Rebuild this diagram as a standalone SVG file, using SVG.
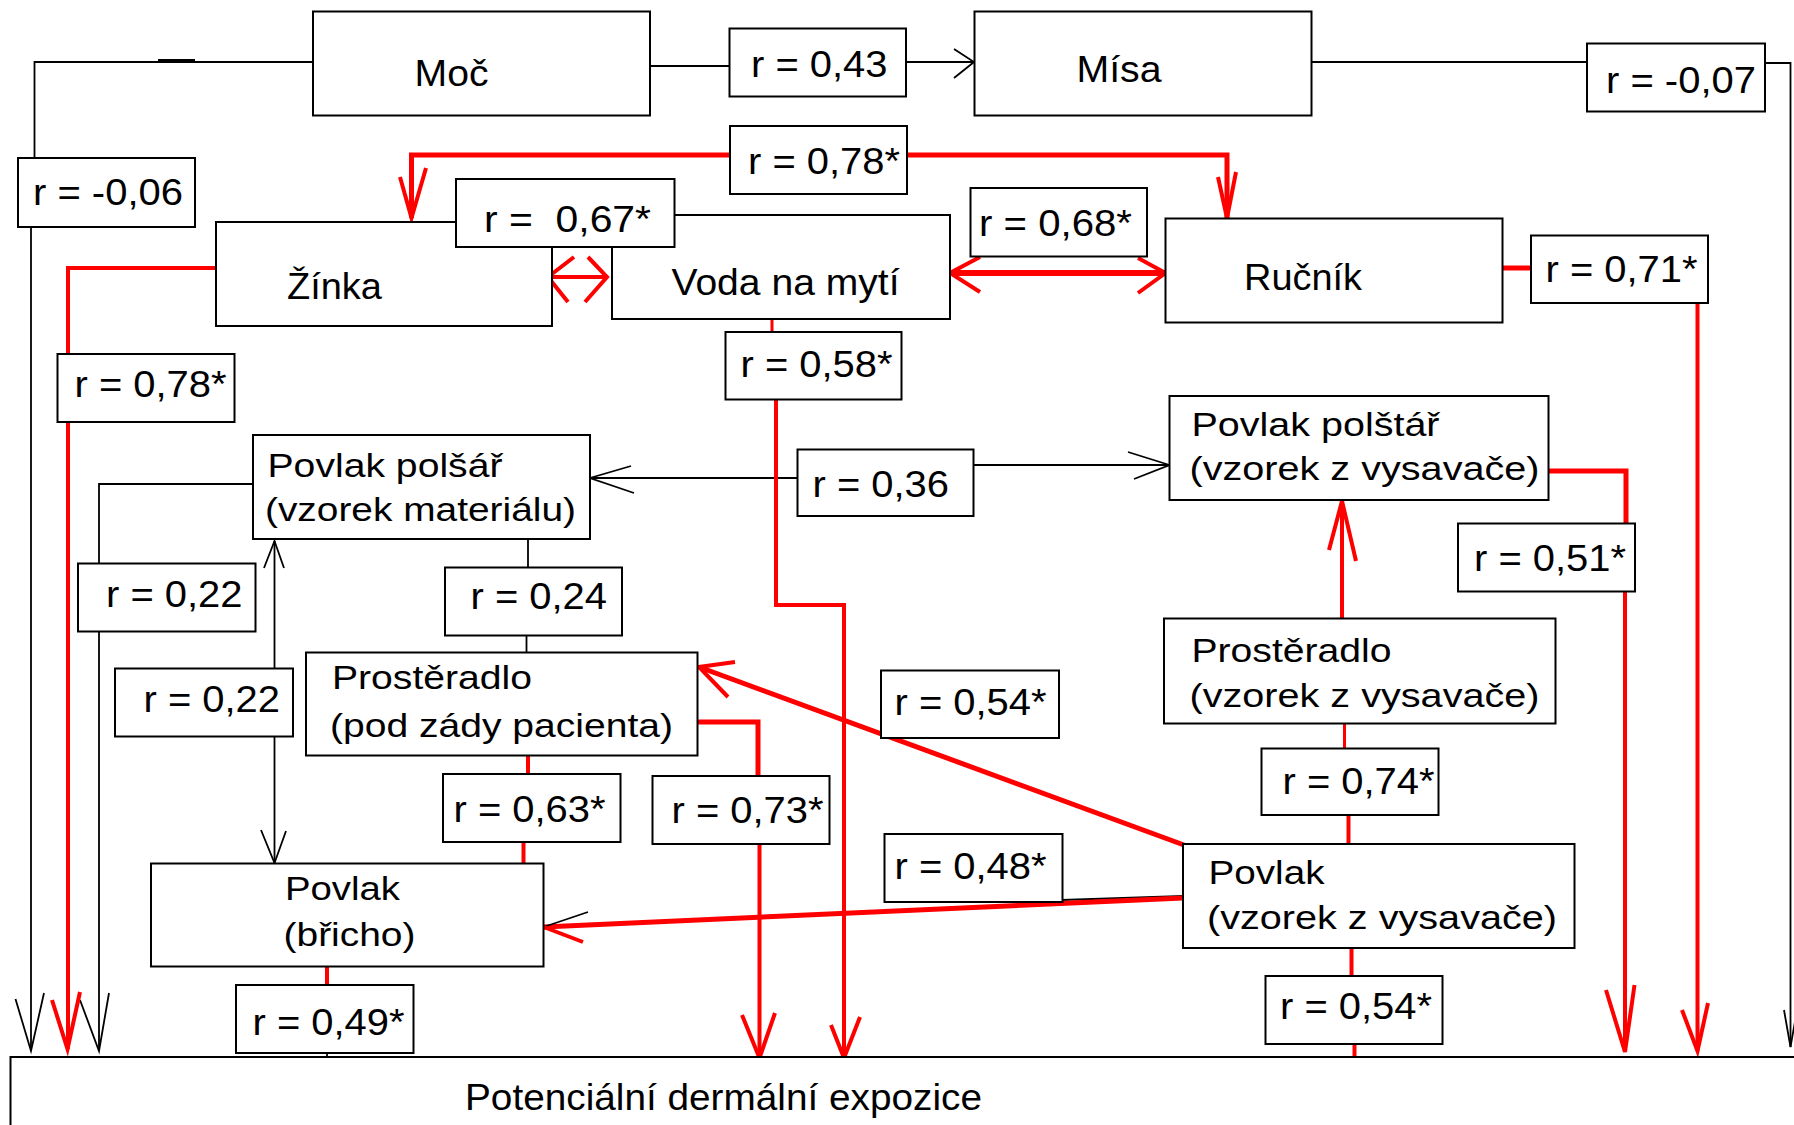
<svg xmlns="http://www.w3.org/2000/svg" width="1794" height="1125" viewBox="0 0 1794 1125">
<style>
.nd{fill:#fff;stroke:#000;stroke-width:2}
.lb{fill:#fff;stroke:#000;stroke-width:2}
.k{fill:none;stroke:#000;stroke-width:1.8}
.r{fill:none;stroke:#f00;stroke-width:4}
.rt{fill:none;stroke:#f00;stroke-width:5}
text{font-family:"Liberation Sans",Arial,sans-serif;fill:#000}
.t1{font-size:37px}
.tn{font-size:36px}
.t2{font-size:34px}
</style>
<rect width="1794" height="1125" fill="#fff"/>
<g id="connectors">
<path class="k" d="M313,62 H34.5 V158"/>
<path d="M158,61 H195" stroke="#000" stroke-width="4"/>
<path class="k" d="M31,227 V1051"/>
<path class="k" d="M15.5,999 L31,1051 L44,993"/>
<path class="k" d="M650,66 H730"/>
<path class="k" d="M906,62 H974"/>
<path class="k" d="M954,49 L974,62 L954,78"/>
<path class="k" d="M1311,62 H1587"/>
<path class="k" d="M1765,63 H1790.5 V1047"/>
<path class="k" d="M1784,1010 L1790.5,1047 L1797,1010"/>
<path class="k" d="M253,484 H99 V1051"/>
<path class="k" d="M80,1000 L99,1051 L109,993"/>
<path class="k" d="M797,478 H590"/>
<path class="k" d="M631,466 L590,478 L634,493"/>
<path class="k" d="M974,465 H1169.5"/>
<path class="k" d="M1128,452 L1169.5,465 L1134,479"/>
<path class="k" d="M528,539 V567"/>
<path class="k" d="M526.5,635 V652"/>
<path class="k" d="M274.5,541 V863"/>
<path class="k" d="M264,568 L274.5,541 L284,568"/>
<path class="k" d="M261,830 L274.5,863 L286,831"/>
<path class="k" d="M327,1053 V1059"/>
<path class="k" d="M1000,902 L1184,896"/>
<path class="rt" d="M730,155 H411.5 V218"/>
<path class="r" d="M400,177 L411.5,218 L426,168"/>
<path class="rt" d="M907,155 H1227 V218"/>
<path class="r" d="M1218,177 L1227,218 L1236,172"/>
<path class="r" d="M216,268 H68 V1049"/>
<path class="r" d="M52,1000 L67.5,1049 L80,992"/>
<path class="r" d="M548,277 H607"/>
<path class="r" d="M574,257 L548,277 L568,302 M588,257 L607,277 L585,302"/>
<path class="r" style="stroke-width:6" d="M950,273 H1165.5"/>
<path class="r" d="M980,257 L950,273 L980,292 M1138,258 L1165.5,273 L1138,293"/>
<path class="r" style="stroke-width:3" d="M772,315 V332"/>
<path class="r" d="M776,399 V605 H844 V1058"/>
<path class="r" d="M831,1025 L844,1058 L860,1017"/>
<path class="rt" d="M1502.5,268 H1531"/>
<path class="r" d="M1697.5,303 V1051"/>
<path class="r" d="M1682,1010 L1697.5,1051 L1708,1003"/>
<path class="rt" d="M1548,471 H1626 V523"/>
<path class="r" d="M1625,592 V1052"/>
<path class="r" d="M1606,990 L1625,1052 L1634.5,985"/>
<path class="r" d="M1342,618 V501"/>
<path class="r" d="M1329,550 L1342,501 L1356,561"/>
<path class="r" style="stroke-width:3" d="M1344.5,723 V748"/>
<path class="r" d="M1348.5,815 V844"/>
<path class="r" d="M1351.5,948 V976"/>
<path class="r" d="M1354.5,1044 V1060"/>
<path class="rt" d="M1184,845 L699,667"/>
<path class="r" d="M735,662 L699,667 L728,697"/>
<path class="rt" d="M1183,898 L543.6,927"/>
<path class="k" d="M588,912 L543.6,927"/>
<path class="r" d="M543.6,927 L583,942"/>
<path class="rt" d="M697.5,722 H758 V776"/>
<path class="r" d="M759.5,844 V1058"/>
<path class="r" d="M742,1015 L759.5,1058 L775,1013"/>
<path class="r" d="M528,756 V774"/>
<path class="r" d="M523.5,842 V863"/>
<path class="r" d="M327,967 V985"/>
</g>
<g id="node-moc"><rect class="nd" x="313" y="11.5" width="337" height="104"/><text class="tn" x="414.5" y="86" textLength="74" lengthAdjust="spacingAndGlyphs">Moč</text></g>
<g id="node-misa"><rect class="nd" x="974.5" y="11.5" width="337" height="104"/><text class="tn" x="1076.5" y="82" textLength="85" lengthAdjust="spacingAndGlyphs">Mísa</text></g>
<g id="node-zinka"><rect class="nd" x="216" y="222" width="336" height="104"/><text class="tn" x="287" y="299" textLength="95" lengthAdjust="spacingAndGlyphs">Žínka</text></g>
<g id="node-voda"><rect class="nd" x="612" y="215" width="338" height="104"/><text class="tn" x="671.5" y="295" textLength="228" lengthAdjust="spacingAndGlyphs">Voda na mytí</text></g>
<g id="node-rucnik"><rect class="nd" x="1165.5" y="218.5" width="337" height="104"/><text class="tn" x="1244" y="290" textLength="118" lengthAdjust="spacingAndGlyphs">Ručník</text></g>
<g id="node-povlak-polsar"><rect class="nd" x="253" y="435" width="337" height="104"/><text class="t2" x="267.5" y="476.5" textLength="235" lengthAdjust="spacingAndGlyphs">Povlak polšář</text><text class="t2" x="265" y="520.5" textLength="311" lengthAdjust="spacingAndGlyphs">(vzorek materiálu)</text></g>
<g id="node-povlak-polstar"><rect class="nd" x="1169.5" y="396" width="379" height="104"/><text class="t2" x="1191.5" y="436" textLength="248" lengthAdjust="spacingAndGlyphs">Povlak polštář</text><text class="t2" x="1189.5" y="480" textLength="350" lengthAdjust="spacingAndGlyphs">(vzorek z vysavače)</text></g>
<g id="node-prosteradlo-zady"><rect class="nd" x="306" y="652.5" width="391.5" height="103"/><text class="t2" x="332" y="688.5" textLength="200" lengthAdjust="spacingAndGlyphs">Prostěradlo</text><text class="t2" x="330" y="736.5" textLength="343" lengthAdjust="spacingAndGlyphs">(pod zády pacienta)</text></g>
<g id="node-prosteradlo-vysavac"><rect class="nd" x="1164" y="618.5" width="391.5" height="105"/><text class="t2" x="1191.5" y="661.5" textLength="200" lengthAdjust="spacingAndGlyphs">Prostěradlo</text><text class="t2" x="1189.5" y="706.5" textLength="350" lengthAdjust="spacingAndGlyphs">(vzorek z vysavače)</text></g>
<g id="node-povlak-bricho"><rect class="nd" x="151" y="863.5" width="392.5" height="103"/><text class="t2" x="285" y="900" textLength="115" lengthAdjust="spacingAndGlyphs">Povlak</text><text class="t2" x="283.5" y="945.5" textLength="132" lengthAdjust="spacingAndGlyphs">(břicho)</text></g>
<g id="node-povlak-vysavac"><rect class="nd" x="1183" y="844" width="391.5" height="104"/><text class="t2" x="1208.5" y="883.5" textLength="116" lengthAdjust="spacingAndGlyphs">Povlak</text><text class="t2" x="1207" y="928.5" textLength="350" lengthAdjust="spacingAndGlyphs">(vzorek z vysavače)</text></g>
<g id="node-expozice"><rect class="nd" x="10.5" y="1057" width="1800" height="100"/><text class="tn" x="465" y="1110" textLength="517" lengthAdjust="spacingAndGlyphs">Potenciální dermální expozice</text></g>
<g id="label-043"><rect class="lb" x="729.5" y="28.5" width="176.5" height="68"/><text class="t1" x="751" y="77" textLength="136.5" lengthAdjust="spacingAndGlyphs">r = 0,43</text></g>
<g id="label-m007"><rect class="lb" x="1587" y="43.5" width="178" height="68"/><text class="t1" x="1606" y="93" textLength="150" lengthAdjust="spacingAndGlyphs">r = -0,07</text></g>
<g id="label-078a"><rect class="lb" x="730" y="126" width="177" height="68"/><text class="t1" x="748" y="173.5" textLength="152" lengthAdjust="spacingAndGlyphs">r = 0,78*</text></g>
<g id="label-m006"><rect class="lb" x="18" y="158" width="177" height="69"/><text class="t1" x="33" y="205" textLength="150" lengthAdjust="spacingAndGlyphs">r = -0,06</text></g>
<g id="label-067"><rect class="lb" x="456" y="179" width="218.5" height="68"/><text class="t1" x="484" y="232" textLength="167" lengthAdjust="spacingAndGlyphs" xml:space="preserve" style="white-space:pre">r =  0,67*</text></g>
<g id="label-068"><rect class="lb" x="970.5" y="188" width="176.5" height="68.5"/><text class="t1" x="979" y="235.5" textLength="153" lengthAdjust="spacingAndGlyphs">r = 0,68*</text></g>
<g id="label-071"><rect class="lb" x="1531" y="235.5" width="177" height="67.5"/><text class="t1" x="1545.5" y="281.5" textLength="152" lengthAdjust="spacingAndGlyphs">r = 0,71*</text></g>
<g id="label-058"><rect class="lb" x="725.5" y="332" width="176" height="67.5"/><text class="t1" x="740.5" y="376.5" textLength="152" lengthAdjust="spacingAndGlyphs">r = 0,58*</text></g>
<g id="label-078b"><rect class="lb" x="57.5" y="354" width="177" height="68"/><text class="t1" x="74.5" y="396.5" textLength="152" lengthAdjust="spacingAndGlyphs">r = 0,78*</text></g>
<g id="label-036"><rect class="lb" x="797.5" y="449.5" width="176" height="66.5"/><text class="t1" x="812.5" y="497" textLength="136.5" lengthAdjust="spacingAndGlyphs">r = 0,36</text></g>
<g id="label-051"><rect class="lb" x="1458" y="523.5" width="177" height="68"/><text class="t1" x="1474" y="570.5" textLength="152" lengthAdjust="spacingAndGlyphs">r = 0,51*</text></g>
<g id="label-022a"><rect class="lb" x="78" y="563.5" width="177.5" height="68"/><text class="t1" x="106" y="606.5" textLength="136.5" lengthAdjust="spacingAndGlyphs">r = 0,22</text></g>
<g id="label-024"><rect class="lb" x="445" y="567.5" width="177" height="68"/><text class="t1" x="470.5" y="608.5" textLength="136.5" lengthAdjust="spacingAndGlyphs">r = 0,24</text></g>
<g id="label-022b"><rect class="lb" x="115" y="668.5" width="178" height="68"/><text class="t1" x="143.5" y="711.5" textLength="136.5" lengthAdjust="spacingAndGlyphs">r = 0,22</text></g>
<g id="label-054a"><rect class="lb" x="881" y="670.5" width="178" height="67.5"/><text class="t1" x="894.5" y="715" textLength="152" lengthAdjust="spacingAndGlyphs">r = 0,54*</text></g>
<g id="label-074"><rect class="lb" x="1261.5" y="748.5" width="177" height="66.5"/><text class="t1" x="1282.5" y="793.5" textLength="152" lengthAdjust="spacingAndGlyphs">r = 0,74*</text></g>
<g id="label-063"><rect class="lb" x="443" y="774" width="177.5" height="68"/><text class="t1" x="453.5" y="821.5" textLength="152" lengthAdjust="spacingAndGlyphs">r = 0,63*</text></g>
<g id="label-073"><rect class="lb" x="652.5" y="776" width="177" height="68"/><text class="t1" x="671.5" y="822.5" textLength="152" lengthAdjust="spacingAndGlyphs">r = 0,73*</text></g>
<g id="label-048"><rect class="lb" x="884.5" y="834" width="178" height="68"/><text class="t1" x="894.5" y="878.5" textLength="152" lengthAdjust="spacingAndGlyphs">r = 0,48*</text></g>
<g id="label-054b"><rect class="lb" x="1265.5" y="976" width="177" height="68"/><text class="t1" x="1280" y="1018.5" textLength="152" lengthAdjust="spacingAndGlyphs">r = 0,54*</text></g>
<g id="label-049"><rect class="lb" x="236" y="985" width="177.5" height="68"/><text class="t1" x="252.5" y="1035" textLength="152" lengthAdjust="spacingAndGlyphs">r = 0,49*</text></g>
</svg>
